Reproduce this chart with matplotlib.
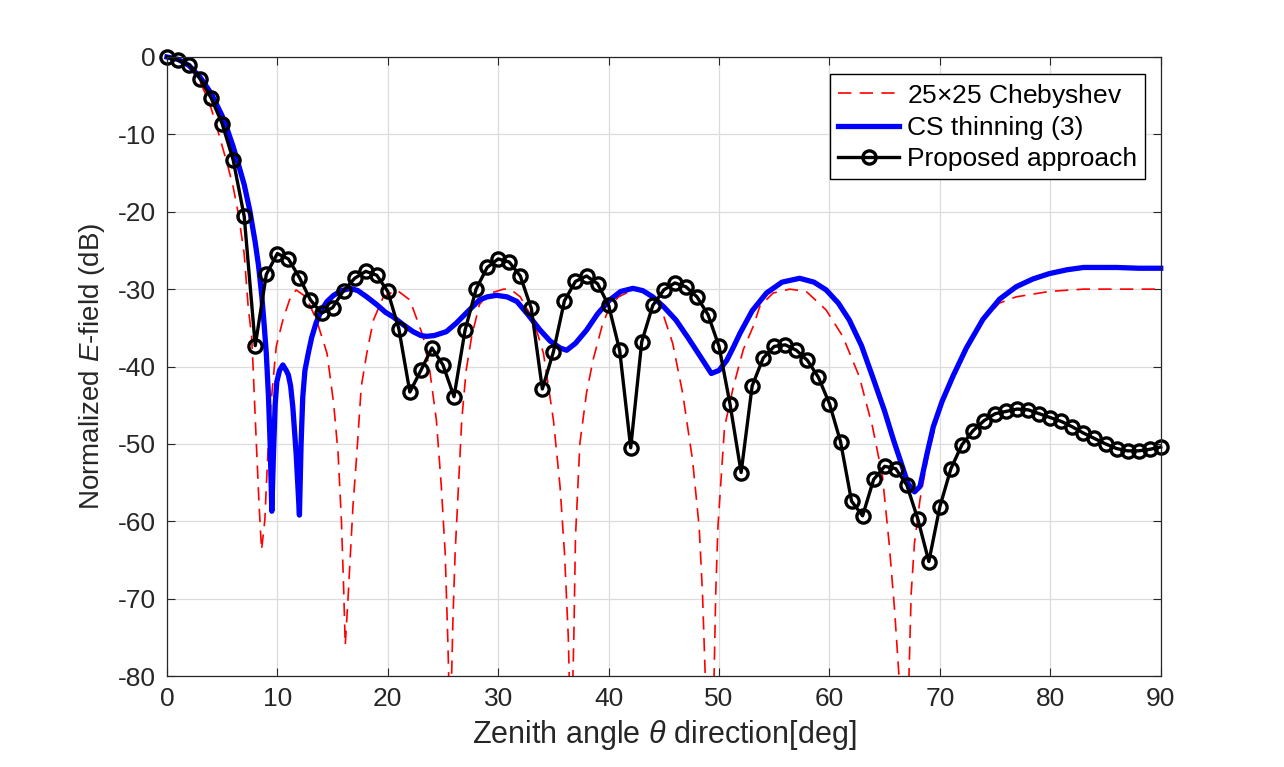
import matplotlib
matplotlib.use("Agg")
import matplotlib.pyplot as plt
import numpy as np

plt.rcParams.update({'font.family': ['Liberation Sans', 'DejaVu Sans'],
                     'font.size': 19,
                     'axes.unicode_minus': False,
                     'mathtext.fontset': 'custom',
                     'mathtext.rm': 'Liberation Sans',
                     'mathtext.it': 'Liberation Sans:italic',
                     'lines.solid_joinstyle': 'round'})

# 25x25 Chebyshev (red dashed)
cheb_theta = [0, 1, 2, 3, 3.5, 4, 4.5, 5, 5.5, 6, 6.5, 7, 7.36, 7.67, 7.8, 8.1, 8.35, 8.57,
              8.87, 9.0, 9.3, 9.6, 9.9, 10.5, 11.1, 11.7, 12.6, 13.55, 14.5, 15.1, 15.5, 15.8,
              16.0, 16.15, 16.4, 16.7, 16.85, 17.2, 17.6, 18.1, 18.7, 19.6, 20.8, 22.0, 23.2,
              23.8, 24.4, 24.85, 25.2, 25.45, 25.65, 25.9, 26.1, 26.4, 26.7, 27.1, 27.6, 28.3,
              29.1, 30.5, 31.1, 32.0, 33.2, 34.1, 35.0, 35.6, 36.0, 36.35, 36.6, 36.85, 37.0,
              37.4, 38.0, 38.6, 39.4, 40.1, 40.9, 41.6, 42.5, 43.5, 44.6, 45.8, 46.7, 47.6,
              48.2, 48.5, 48.75, 49.1, 49.55, 49.7, 49.9, 50.2, 50.5, 51.3, 52.2, 53.1, 53.7,
              54.9, 56.4, 57.9, 59.7, 61.2, 62.7, 63.9, 64.8, 65.4, 65.9, 66.3, 66.75, 67.2,
              67.4, 67.7, 68.2, 69.0, 70.0, 71.0, 72.4, 73.9, 75.4, 76.9, 79.9, 83.0, 86.0, 90.0]
cheb_db = [0, -0.4, -1.3, -3.2, -4.8, -6.6, -9.0, -11.5, -14.0, -16.8, -20.5, -25.5, -32.3,
           -36.1, -40.0, -50.0, -58.0, -63.7, -59.8, -55.5, -46.8, -42.0, -37.4, -34.0, -31.4,
           -30.1, -31.0, -34.0, -38.3, -44.8, -51.2, -59.8, -68.5, -76.0, -70.0, -62.0, -58.0,
           -51.2, -42.6, -38.3, -34.0, -31.0, -30.1, -31.4, -36.1, -40.5, -46.9, -55.5, -64.1,
           -76.0, -88.0, -72.8, -64.1, -55.5, -46.9, -40.5, -36.1, -32.0, -30.6, -30.0, -30.0,
           -31.0, -34.0, -38.3, -46.9, -55.5, -64.0, -75.0, -90.0, -75.0, -62.0, -49.9, -43.4,
           -39.1, -34.8, -32.2, -31.0, -30.5, -30.0, -30.4, -31.8, -37.0, -43.4, -52.1, -60.7,
           -69.3, -80.0, -95.0, -80.0, -69.3, -60.7, -54.2, -47.8, -42.6, -37.8, -34.8, -32.2,
           -30.5, -30.0, -30.3, -32.7, -36.1, -41.3, -47.8, -54.2, -62.8, -71.5, -80.1, -95.0,
           -80.0, -69.3, -62.8, -57.2, -51.0, -45.5, -41.5, -37.9, -34.0, -31.8, -31.0, -30.3,
           -30.0, -30.0, -30.0]

# CS thinning (3) (blue)
cs_theta = [0, 1, 2, 3, 4, 5, 5.5, 6, 6.5, 7, 7.5, 8, 8.3, 8.6, 8.8, 9.0, 9.2, 9.35, 9.5,
            9.65, 9.8, 9.95, 10.2, 10.5, 10.8, 11.0, 11.2, 11.4, 11.7, 12.0, 12.15, 12.3,
            12.5, 12.8, 13.1, 13.5, 14.0, 14.5, 15.1, 15.8, 16.6, 17.3, 18.1, 19.0, 19.8,
            20.5, 21.4, 22.3, 23.0, 23.5, 24.2, 25.3, 26.2, 27.1, 28.3, 29.0, 29.85, 30.8,
            31.7, 32.7, 33.8, 34.7, 35.6, 36.2, 37.0, 38.0, 39.0, 40.1, 41.1, 42.2, 43.1,
            44.0, 45.0, 46.1, 47.2, 48.3, 49.3, 50.0, 50.7, 51.3, 51.9, 53.0, 54.3, 55.7,
            57.3, 58.6, 59.7, 60.8, 61.8, 62.9, 64.0, 65.0, 65.8, 66.5, 67.1, 67.7, 68.2,
            68.8, 69.4, 70.2, 71.2, 72.4, 73.9, 75.4, 76.9, 78.4, 79.9, 81.5, 83.0, 86.0,
            88.0, 90.0]
cs_db = [0, -0.3, -1.1, -2.6, -4.7, -7.6, -9.5, -11.6, -14.0, -16.5, -19.8, -24.0, -27.0,
         -31.0, -34.5, -38.3, -44.0, -50.0, -58.7, -51.2, -45.0, -42.0, -40.5, -39.8, -40.5,
         -41.1, -42.5, -45.2, -51.2, -59.2, -50.0, -44.0, -40.5, -38.3, -36.3, -34.4, -32.7,
         -31.6, -30.8, -30.2, -29.9, -30.2, -31.0, -32.0, -33.0, -33.6, -34.6, -35.5, -36.0,
         -36.1, -36.0, -35.5, -34.4, -33.1, -31.4, -31.0, -30.8, -31.0, -31.6, -33.3, -35.3,
         -36.7, -37.6, -37.9, -37.0, -35.3, -33.2, -31.4, -30.3, -29.9, -30.2, -31.0, -32.3,
         -34.0, -36.3, -38.7, -40.9, -40.5, -39.2, -37.5, -35.7, -32.8, -30.5, -29.1, -28.6,
         -29.1, -30.1, -31.8, -34.0, -37.3, -41.7, -45.8, -49.5, -52.5, -55.1, -56.2, -55.5,
         -51.5, -47.8, -44.5, -41.2, -37.6, -33.9, -31.3, -29.7, -28.7, -28.0, -27.5, -27.2,
         -27.2, -27.3, -27.3]

# Proposed approach (black, one point per degree)
prop_theta = list(range(0, 91))
prop_db = [0, -0.4, -1.0, -2.8, -5.3, -8.6, -13.3, -20.6, -37.3, -28.1,
           -25.4, -26.1, -28.5, -31.4, -33.1, -32.4, -30.2, -28.6, -27.7, -28.2,
           -30.3, -35.1, -43.3, -40.5, -37.6, -39.8, -43.9, -35.3, -30.0, -27.2,
           -26.1, -26.5, -28.3, -32.5, -42.9, -38.1, -31.5, -29.0, -28.3, -29.3,
           -32.1, -37.9, -50.5, -36.8, -32.1, -30.1, -29.2, -29.7, -31.0, -33.3,
           -37.4, -44.9, -53.7, -42.5, -38.9, -37.4, -37.2, -37.9, -39.2, -41.4,
           -44.8, -49.7, -57.4, -59.3, -54.6, -52.9, -53.2, -55.3, -59.7, -65.2,
           -58.1, -53.2, -50.1, -48.3, -47.0, -46.1, -45.8, -45.5, -45.6, -46.1,
           -46.6, -47.1, -47.8, -48.6, -49.3, -50.0, -50.6, -50.9, -50.9, -50.7,
           -50.4]

fig = plt.figure(figsize=(12.84, 7.67), dpi=100)
ax = fig.add_axes([0.130, 0.1186, 0.774, 0.8071])

ax.plot(cheb_theta, cheb_db, color='red', lw=1.2, linestyle=(0, (8, 5)),
        label=r'25$\times$25 Chebyshev')
ax.plot(cs_theta, cs_db, color='blue', lw=3.8, label='CS thinning (3)', clip_on=False)
ax.plot(prop_theta, prop_db, color='black', lw=2.4, marker='o', markersize=9.5,
        markerfacecolor='none', markeredgewidth=2.4, label='Proposed approach',
        clip_on=False)

ax.set_xlim(0, 90)
ax.set_ylim(-80, 0)
ax.set_xticks(np.arange(0, 91, 10))
ax.set_yticks(np.arange(-80, 1, 10))
ax.grid(True, color='#dcdcdc', lw=0.9)
ax.set_axisbelow(True)
ax.tick_params(direction='in', length=6, top=True, right=True, colors='#262626',
               labelsize=19, pad=8)
for s in ax.spines.values():
    s.set_color('#262626')
    s.set_linewidth(0.9)

ax.set_xlabel(r'Zenith angle $\theta$ direction[deg]', fontsize=22, color='#262626',
              labelpad=5)
ax.set_ylabel(r'Normalized $E$-field (dB)', fontsize=20, color='#262626', labelpad=8)

leg = ax.legend(loc='upper right', bbox_to_anchor=(0.984, 0.973), borderaxespad=0,
                fontsize=19, fancybox=False, framealpha=1, edgecolor='black',
                handlelength=2.3, handletextpad=0.3, labelspacing=0.25, borderpad=0.3)
leg.get_frame().set_linewidth(1.0)

fig.savefig('out.png', dpi=100)
